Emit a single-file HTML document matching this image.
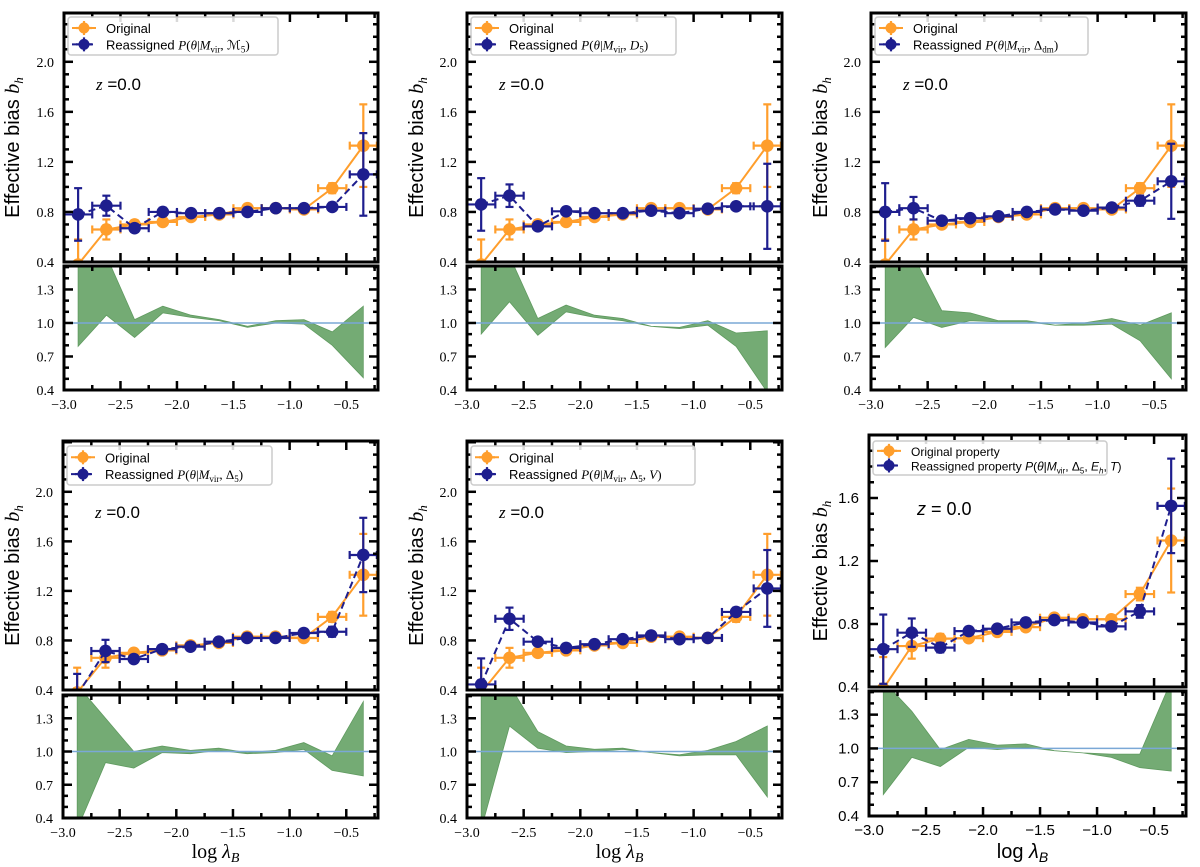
<!DOCTYPE html>
<html><head><meta charset="utf-8"><style>
html,body{margin:0;padding:0;background:#fff;}
svg{display:block;}
</style></head><body>
<svg id="fig" width="1200" height="867" xmlns="http://www.w3.org/2000/svg"></svg>
<script>
// ---------- data ----------
const xCenters = [-2.875,-2.625,-2.375,-2.125,-1.875,-1.625,-1.375,-1.125,-0.875,-0.625,-0.35];
const xHalfWidth = [0.125,0.125,0.125,0.125,0.125,0.125,0.125,0.125,0.125,0.125,0.12];
const origVals = [0.38,0.66,0.70,0.72,0.76,0.78,0.83,0.83,0.82,0.99,1.33];
const origErr  = [0.20,0.08,0.03,0.02,0.02,0.02,0.02,0.02,0.02,0.04,0.33];
const p1Reas = [0.78,0.85,0.67,0.80,0.79,0.79,0.80,0.83,0.83,0.84,1.10];
const p1ReasErr = [0.21,0.08,0.03,0.02,0.02,0.02,0.02,0.02,0.02,0.03,0.33];
const p1Upper = [1.6,1.6,1.03,1.15,1.07,1.03,0.97,1.02,1.03,0.92,1.15];
const p1Lower = [0.79,1.07,0.87,1.09,1.05,1.02,0.96,1.00,0.99,0.80,0.51];
const p2Reas = [0.86,0.93,0.685,0.805,0.79,0.79,0.81,0.79,0.826,0.845,0.845];
const p2ReasErr = [0.21,0.09,0.03,0.02,0.02,0.02,0.02,0.02,0.02,0.03,0.34];
const p2Upper = [1.6,1.6,1.04,1.16,1.07,1.04,0.97,0.96,1.02,0.91,0.93];
const p2Lower = [0.90,1.19,0.89,1.10,1.05,1.02,0.97,0.95,0.98,0.79,0.38];
const p3Reas = [0.80,0.83,0.73,0.75,0.765,0.80,0.82,0.81,0.835,0.89,1.045];
const p3ReasErr = [0.23,0.09,0.03,0.02,0.02,0.02,0.02,0.02,0.02,0.04,0.30];
const p3Upper = [1.6,1.6,1.11,1.09,1.02,1.02,0.98,1.00,1.04,0.98,1.09];
const p3Lower = [0.78,1.05,0.96,1.02,1.01,1.01,0.98,0.98,0.99,0.84,0.50];
const p4Reas = [0.36,0.715,0.65,0.73,0.75,0.79,0.82,0.82,0.86,0.87,1.49];
const p4ReasErr = [0.17,0.09,0.03,0.02,0.02,0.02,0.02,0.02,0.02,0.04,0.30];
const p4Upper = [1.6,1.3,1.00,1.05,1.01,1.03,0.99,1.01,1.08,0.96,1.45];
const p4Lower = [0.30,0.90,0.85,0.99,0.98,1.01,0.98,0.99,1.02,0.83,0.78];
const p5Reas = [0.445,0.975,0.79,0.74,0.77,0.81,0.84,0.81,0.82,1.03,1.22];
const p5ReasErr = [0.21,0.09,0.03,0.02,0.02,0.02,0.02,0.02,0.02,0.03,0.31];
const p5Upper = [1.6,1.6,1.18,1.05,1.02,1.03,0.99,0.97,1.01,1.09,1.23];
const p5Lower = [0.30,1.23,1.03,0.99,1.00,1.02,0.99,0.96,0.97,0.97,0.59];
const p6Orig = [0.39,0.66,0.707,0.71,0.75,0.78,0.84,0.83,0.83,0.99,1.33];
const p6OrigErr = [0.20,0.08,0.03,0.02,0.02,0.02,0.02,0.02,0.02,0.04,0.33];
const p6Reas = [0.64,0.745,0.65,0.755,0.77,0.81,0.825,0.81,0.785,0.88,1.55];
const p6ReasErr = [0.22,0.09,0.03,0.02,0.02,0.02,0.02,0.02,0.02,0.04,0.30];
const p6Upper = [1.6,1.33,0.99,1.08,1.03,1.04,0.98,0.96,0.95,0.95,1.6];
const p6Lower = [0.59,0.92,0.84,1.01,0.99,1.01,0.98,0.96,0.92,0.83,0.80];
const xTickLabels = ['−3.0','−2.5','−2.0','−1.5','−1.0','−0.5'];
const xTickValues = [-3.0,-2.5,-2.0,-1.5,-1.0,-0.5];
const mainTicks = [0.4,0.8,1.2,1.6,2.0];
const mainTicks6 = [0.4,0.8,1.2,1.6];
const ratioTicks = [0.4,0.7,1.0,1.3];

const ORANGE='#ff9e2c', NAVY='#1e1e8e', GREEN='#74ab74', REF='#7aa8d6';
const NS='http://www.w3.org/2000/svg';
const svg=document.getElementById('fig');
function mk(tag,attrs,parent){const e=document.createElementNS(NS,tag);for(const k in attrs)e.setAttribute(k,attrs[k]);(parent||svg).appendChild(e);return e;}

const panels=[
 {id:1,x0:64,x1:378,mt:13,mb:262,rt:266,rb:390,ymax:2.39,orig:origVals,oe:origErr,re:p1Reas,ree:p1ReasErr,up:p1Upper,lo:p1Lower,serif:true,leg:[68,17,278,55],lab:'ℳ<tspan font-size="9" dy="3">5</tspan><tspan dy="-3">)</tspan>',ylx:12,xlab:false},
 {id:2,x0:467,x1:782,mt:13,mb:262,rt:266,rb:390,ymax:2.39,orig:origVals,oe:origErr,re:p2Reas,ree:p2ReasErr,up:p2Upper,lo:p2Lower,serif:true,leg:[471,17,676,55],lab:'<tspan font-style="italic">D</tspan><tspan font-size="9" dy="3">5</tspan><tspan dy="-3">)</tspan>',ylx:416,xlab:false},
 {id:3,x0:871,x1:1186,mt:13,mb:262,rt:266,rb:390,ymax:2.39,orig:origVals,oe:origErr,re:p3Reas,ree:p3ReasErr,up:p3Upper,lo:p3Lower,serif:true,leg:[875,17,1088,55],lab:'Δ<tspan font-size="9" dy="3">dm</tspan><tspan dy="-3">)</tspan>',ylx:820,xlab:false},
 {id:4,x0:63,x1:378,mt:441,mb:690,rt:695,rb:818,ymax:2.41,orig:origVals,oe:origErr,re:p4Reas,ree:p4ReasErr,up:p4Upper,lo:p4Lower,serif:true,leg:[67,446,272,485],lab:'Δ<tspan font-size="9" dy="3">5</tspan><tspan dy="-3">)</tspan>',ylx:12,xlab:true},
 {id:5,x0:467,x1:782,mt:441,mb:690,rt:695,rb:818,ymax:2.41,orig:origVals,oe:origErr,re:p5Reas,ree:p5ReasErr,up:p5Upper,lo:p5Lower,serif:true,leg:[471,446,695,485],lab:'Δ<tspan font-size="9" dy="3">5</tspan><tspan dy="-3">, </tspan><tspan font-style="italic">V</tspan>)',ylx:416,xlab:true},
 {id:6,x0:869,x1:1186,mt:435,mb:687,rt:691,rb:816,ymax:2.0,orig:p6Orig,oe:p6OrigErr,re:p6Reas,ree:p6ReasErr,up:p6Upper,lo:p6Lower,serif:false,leg:[873,441,1107,475],ylx:820,xlab:true}
];

panels.forEach(p=>{
  const g=mk('g',{});
  
  
  const ppu=(p.x1-p.x0)/2.78;
  const sx=v=>p.x0+(v+3.0)*ppu;
  const sy=v=>p.mb-(v-0.4)/(p.ymax-0.4)*(p.mb-p.mt);
  const ry=v=>p.rb-(v-0.4)/(1.51-0.4)*(p.rb-p.rt);
  const tickFont=p.serif?'"Liberation Serif", serif':'"Liberation Sans", sans-serif';
  const cid='clipM'+p.id, rid='clipR'+p.id;
  const defs=mk('defs',{},g);
  mk('rect',{x:p.x0,y:p.mt,width:p.x1-p.x0,height:p.mb-p.mt},mk('clipPath',{id:cid},defs));
  mk('rect',{x:p.x0,y:p.rt,width:p.x1-p.x0,height:p.rb-p.rt},mk('clipPath',{id:rid},defs));

  // ratio band
  const rg=mk('g',{'clip-path':'url(#'+rid+')'},g);
  let d='';
  xCenters.forEach((x,i)=>{d+=(i?'L':'M')+sx(x).toFixed(1)+','+ry(p.up[i]).toFixed(1);});
  for(let i=xCenters.length-1;i>=0;i--)d+='L'+sx(xCenters[i]).toFixed(1)+','+ry(p.lo[i]).toFixed(1);
  const band=mk('path',{d:d+'Z',fill:GREEN,stroke:'#5f9a5f','stroke-width':0.8},rg);
  
  
  const refl=mk('line',{x1:p.x0,x2:p.x1,y1:ry(1.0),y2:ry(1.0),stroke:REF,'stroke-width':1.5},rg);
  
  

  // main series
  const mg=mk('g',{'clip-path':'url(#'+cid+')'},g);
  function series(vals,errs,color,dash,name){
    const sg=mk('g',{},mg);
    
    
    mk('polyline',{points:xCenters.map((x,i)=>sx(x).toFixed(1)+','+sy(vals[i]).toFixed(1)).join(' '),fill:'none',stroke:color,'stroke-width':2,'stroke-dasharray':dash?'7,4':'none'},sg);
    xCenters.forEach((x,i)=>{
      const cx=sx(x),cy=sy(vals[i]),yt=sy(vals[i]+errs[i]),yb=sy(vals[i]-errs[i]);
      const xl=sx(x-xHalfWidth[i]),xr=sx(x+xHalfWidth[i]);
      mk('line',{x1:cx,x2:cx,y1:yt,y2:yb,stroke:color,'stroke-width':2.2},sg);
      mk('line',{x1:cx-4,x2:cx+4,y1:yt,y2:yt,stroke:color,'stroke-width':2.2},sg);
      mk('line',{x1:cx-4,x2:cx+4,y1:yb,y2:yb,stroke:color,'stroke-width':2.2},sg);
      mk('line',{x1:xl,x2:xr,y1:cy,y2:cy,stroke:color,'stroke-width':2.2},sg);
      mk('line',{x1:xl,x2:xl,y1:cy-4,y2:cy+4,stroke:color,'stroke-width':2.2},sg);
      mk('line',{x1:xr,x2:xr,y1:cy-4,y2:cy+4,stroke:color,'stroke-width':2.2},sg);
      const c=mk('circle',{cx:cx,cy:cy,r:6.3,fill:color},sg);
      
      
    });
  }
  series(p.orig,p.oe,ORANGE,false,'original-series');
  series(p.re,p.ree,NAVY,true,'reassigned-series');

  // ticks
  const tg=mk('g',{stroke:'#000'},g);
  
  
  function xt(top,bot){
    for(let k=0;k<=11;k++){const v=-3+0.25*k;const X=sx(v);if(X>p.x1-1)break;const L=(k%2==0)?9:5;
      mk('line',{x1:X,x2:X,y1:top,y2:top+L,'stroke-width':2.5},tg);mk('line',{x1:X,x2:X,y1:bot,y2:bot-L,'stroke-width':2.5},tg);}
  }
  xt(p.mt,p.mb);xt(p.rt,p.rb);
  for(let v=0.4;v<p.ymax+0.001;v+=0.1){const Y=sy(v);const major=Math.abs(((v-0.4)/0.4)-Math.round((v-0.4)/0.4))<0.01;const L=major?9:5;
    mk('line',{x1:p.x0,x2:p.x0+L,y1:Y,y2:Y,'stroke-width':2.5},tg);mk('line',{x1:p.x1,x2:p.x1-L,y1:Y,y2:Y,'stroke-width':2.5},tg);}
  for(let v=0.4;v<1.51;v+=0.1){const Y=ry(v);const major=Math.abs(((v-0.4)/0.3)-Math.round((v-0.4)/0.3))<0.01;const L=major?9:5;
    mk('line',{x1:p.x0,x2:p.x0+L,y1:Y,y2:Y,'stroke-width':2.5},tg);mk('line',{x1:p.x1,x2:p.x1-L,y1:Y,y2:Y,'stroke-width':2.5},tg);}

  // frames
  const f1=mk('rect',{x:p.x0,y:p.mt,width:p.x1-p.x0,height:p.mb-p.mt,fill:'none',stroke:'#000','stroke-width':3},g);
  
  const f2=mk('rect',{x:p.x0,y:p.rt,width:p.x1-p.x0,height:p.rb-p.rt,fill:'none',stroke:'#000','stroke-width':3},g);
  

  // tick labels
  (p.id==6?mainTicks6:mainTicks).forEach(v=>{const t=mk('text',{x:p.x0-10,y:sy(v)+5,'text-anchor':'end','font-family':tickFont,'font-size':p.serif?14:15,fill:'#000'},g);t.textContent=v.toFixed(1);
    });
  ratioTicks.forEach(v=>{const t=mk('text',{x:p.x0-10,y:ry(v)+5,'text-anchor':'end','font-family':tickFont,'font-size':p.serif?14:15,fill:'#000'},g);t.textContent=v.toFixed(1);
    });
  xTickValues.forEach((v,i)=>{const t=mk('text',{x:sx(v),y:p.rb+19,'text-anchor':'middle','font-family':tickFont,'font-size':p.serif?14:15,fill:'#000'},g);t.textContent=xTickLabels[i];
    });

  // y label
  const cy=(p.mt+p.mb)/2+10;
  const yl=mk('text',{x:0,y:0,transform:'translate('+(p.ylx+7)+','+cy+') rotate(-90)','text-anchor':'middle','font-family':'"Liberation Sans", sans-serif','font-size':20,fill:'#000'},g);
  yl.innerHTML='Effective bias <tspan font-family="Liberation Serif, serif" font-style="italic">b</tspan><tspan font-family="Liberation Serif, serif" font-style="italic" font-size="13" dy="4">h</tspan>';
  

  // x label
  if(p.xlab){const xl=mk('text',{x:(p.x0+p.x1)/2-5,y:858,'text-anchor':'middle','font-family':p.serif?'"Liberation Serif", serif':'"Liberation Sans", sans-serif','font-size':20,fill:'#000'},g);
    xl.innerHTML='log <tspan font-style="italic">λ</tspan><tspan font-style="italic" font-size="14" dy="4">B</tspan>';
    }

  // z label
  const zt=mk('text',{x:p.id==6?917:p.x0+32,y:p.id==6?515:p.mt+77,'font-family':'"Liberation Sans", sans-serif','font-size':p.id==6?18:17,fill:'#000'},g);
  zt.innerHTML=p.id==6?'<tspan font-style="italic">z</tspan> = 0.0':'<tspan font-family="Liberation Serif, serif" font-style="italic">z</tspan> =0.0';
  

  // legend
  const [lx0,ly0,lx1,ly1]=p.leg;
  const lg=mk('g',{},g);
  
  mk('rect',{x:lx0,y:ly0,width:lx1-lx0,height:ly1-ly0,rx:3,fill:'rgba(255,255,255,0.85)',stroke:'#cccccc','stroke-width':1.5},lg);
  const h=(ly1-ly0);
  [[ORANGE,ly0+h*0.29],[NAVY,ly0+h*0.72]].forEach(([c,Y],k)=>{
    const mx=lx0+16;
    mk('line',{x1:lx0+4,x2:lx0+28,y1:Y,y2:Y,stroke:c,'stroke-width':2,'stroke-dasharray':k?'5,3':'none'},lg);
    mk('line',{x1:mx-8,x2:mx+8,y1:Y,y2:Y,stroke:c,'stroke-width':2.2},lg);
    mk('line',{x1:mx,x2:mx,y1:Y-7,y2:Y+7,stroke:c,'stroke-width':2.2},lg);
    mk('circle',{cx:mx,cy:Y,r:5.5,fill:c},lg);
  });
  const fs=p.id==6?12:13;
  const t1=mk('text',{x:lx0+38,y:ly0+h*0.29+5,'font-family':'"Liberation Sans", sans-serif','font-size':fs,fill:'#000'},lg);
  t1.textContent=p.id==6?'Original property':'Original';
  
  const t2=mk('text',{x:lx0+38,y:ly0+h*0.72+5,'font-family':'"Liberation Sans", sans-serif','font-size':fs,fill:'#000'},lg);
  if(p.id==6){
    t2.innerHTML='Reassigned property <tspan font-style="italic">P</tspan>(<tspan font-style="italic">θ</tspan>|<tspan font-style="italic">M</tspan><tspan font-size="8" dy="3">vir</tspan><tspan dy="-3">, Δ</tspan><tspan font-size="8" dy="3">5</tspan><tspan dy="-3">, </tspan><tspan font-style="italic">E</tspan><tspan font-size="8" dy="3" font-style="italic">h</tspan><tspan dy="-3">, </tspan><tspan font-style="italic">T</tspan>)';
  } else {
    t2.innerHTML='Reassigned <tspan font-family="Liberation Serif, serif"><tspan font-style="italic">P</tspan>(<tspan font-style="italic">θ</tspan>|<tspan font-style="italic">M</tspan><tspan font-size="9" dy="3">vir</tspan><tspan dy="-3">, </tspan>'+p.lab+'</tspan>';
  }
  
});
</script>
</body></html>
